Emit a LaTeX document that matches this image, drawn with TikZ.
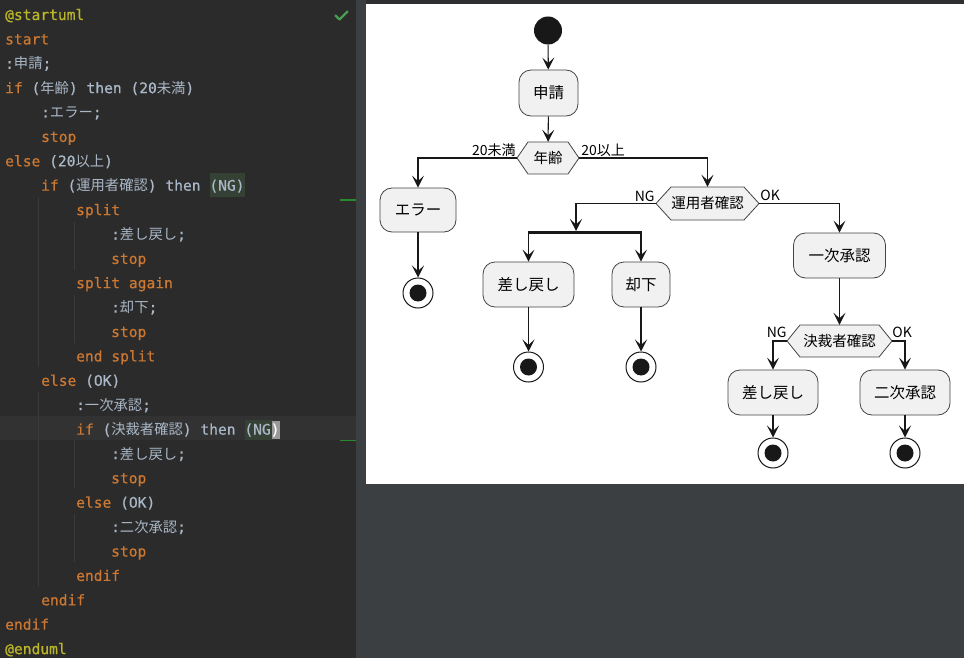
\documentclass[tikz,border=0pt]{standalone}
\usepackage{fontspec}
\newfontfamily\codefont[FakeBold=0.6]{DejaVu Sans Mono}
\newfontfamily\cjkfont{Noto Sans CJK JP}
\usetikzlibrary{arrows.meta}

\definecolor{edbg}{HTML}{2B2B2B}
\definecolor{panel}{HTML}{3C3F41}
\definecolor{topbar}{HTML}{2E2F30}
\definecolor{curline}{HTML}{323232}
\definecolor{kwc}{HTML}{CC7832}
\definecolor{annc}{HTML}{BBB529}
\definecolor{txtc}{HTML}{A9B7C6}
\definecolor{guide}{HTML}{3A3A3A}
\definecolor{matchbg}{HTML}{344134}
\definecolor{cursorbg}{HTML}{9A9A9A}
\definecolor{okgreen}{HTML}{499C54}
\definecolor{changegreen}{HTML}{2A8A2A}
\definecolor{umlline}{HTML}{181818}
\definecolor{umlborder}{HTML}{444444}
\definecolor{umlfill}{HTML}{F1F1F1}

\newcommand\kw[1]{\textcolor{kwc}{#1}}
\newcommand\J[1]{{\cjkfont\fontsize{14.3}{16}\selectfont #1}}
\newcommand\hexnode[7]{%
  \filldraw[hexl] ({#2-#4/2},#3) -- ({#2-#4/2+#6},{#3-#5/2}) -- ({#2+#4/2-#6},{#3-#5/2}) -- ({#2+#4/2},#3) -- ({#2+#4/2-#6},{#3+#5/2}) -- ({#2-#4/2+#6},{#3+#5/2}) -- cycle;
  \node[hext, minimum width=#4, minimum height=#5] (#1) at (#2,#3) {#7};}

\begin{document}
\begin{tikzpicture}[x=1pt, y=-1pt,
  codeline/.style={anchor=base west, inner sep=0pt, text=txtc, font=\codefont\fontsize{14.6}{17}\selectfont},
  guideline/.style={draw=guide, line width=1pt},
  act/.style={draw=umlborder, line width=0.8pt, fill=umlfill, rounded corners=12pt, inner sep=0pt, font=\cjkfont\fontsize{15.5}{18}\selectfont},
  hext/.style={inner sep=0pt, font=\cjkfont\fontsize{14.5}{17}\selectfont},
  hexl/.style={draw=umlborder, line width=0.8pt, fill=umlfill},
  lbl/.style={inner sep=0pt, font=\cjkfont\fontsize{14}{16}\selectfont},
  arr/.style={draw=umlline, line width=1.05pt, -{Stealth[length=12pt,width=12pt,inset=5.5pt]}},
  startc/.style={circle, fill=umlline, minimum size=28pt, inner sep=0pt},
  stopc/.style={circle, draw=umlline, line width=1pt, minimum size=30pt, inner sep=0pt,
    path picture={\fill[umlline] (path picture bounding box.center) circle (8.5pt);}}
]
\useasboundingbox (0,0) rectangle (964,658);
% ---------- backgrounds ----------
\fill[edbg] (0,0) rectangle (964,658);
\fill[panel] (356,0) rectangle (964,658);
\fill[topbar] (366,0) rectangle (964,4);
\fill[white] (366,4) rectangle (964,484);
\fill[curline] (0,416) rectangle (356,440);

% ---------- editor ----------
\draw[okgreen, line width=2.2pt, line cap=round, line join=round] (335.5,15.5) -- (339.5,19.5) -- (347.5,11.5);
\draw[changegreen, line width=1.5pt] (340,200) -- (356,200);
\draw[changegreen, line width=1.5pt] (340,440.5) -- (356,440.5);

\draw[guideline] (38.5,197) -- (38.5,367);
\draw[guideline] (38.5,392) -- (38.5,587);
\draw[guideline] (74.5,222) -- (74.5,270);
\draw[guideline] (74.5,295) -- (74.5,343);
\draw[guideline] (74.5,440) -- (74.5,488);
\draw[guideline] (74.5,514) -- (74.5,562);

\fill[matchbg] (209.5,173) rectangle (245,197);
\fill[matchbg] (244.5,420) rectangle (273,440);
\fill[cursorbg] (272,421) rectangle (280,439);

\node[codeline, text=annc] (c0) at (5,20) {@startuml};
\node[codeline] (c1) at (5,44.4) {\kw{start}};
\node[codeline] (c2) at (5,68.8) {:\J{申請};};
\node[codeline] (c3) at (5,93.2) {\kw{if} (\J{年齢}) then (20\J{未満})};
\node[codeline] (c4) at (41,117.5) {:\J{エラー};};
\node[codeline] (c5) at (41,141.9) {\kw{stop}};
\node[codeline] (c6) at (5,166.3) {\kw{else} (20\J{以上})};
\node[codeline] (c7) at (41,190.7) {\kw{if} (\J{運用者確認}) then (NG)};
\node[codeline] (c8) at (76,215.1) {\kw{split}};
\node[codeline] (c9) at (111,239.5) {:\J{差し戻し};};
\node[codeline] (c10) at (111,263.9) {\kw{stop}};
\node[codeline] (c11) at (76,288.2) {\kw{split again}};
\node[codeline] (c12) at (111,312.6) {:\J{却下};};
\node[codeline] (c13) at (111,337) {\kw{stop}};
\node[codeline] (c14) at (76,361.4) {\kw{end split}};
\node[codeline] (c15) at (41,385.8) {\kw{else} (OK)};
\node[codeline] (c16) at (76,410.2) {:\J{一次承認};};
\node[codeline] (c17) at (76,434.6) {\kw{if} (\J{決裁者確認}) then (NG\textcolor{white}{)}};
\node[codeline] (c18) at (111,459) {:\J{差し戻し};};
\node[codeline] (c19) at (111,483.3) {\kw{stop}};
\node[codeline] (c20) at (76,507.7) {\kw{else} (OK)};
\node[codeline] (c21) at (111,532.1) {:\J{二次承認};};
\node[codeline] (c22) at (111,556.5) {\kw{stop}};
\node[codeline] (c23) at (76,580.9) {\kw{endif}};
\node[codeline] (c24) at (41,605.3) {\kw{endif}};
\node[codeline] (c25) at (5,629.7) {\kw{endif}};
\node[codeline, text=annc] (c26) at (5,654.1) {@enduml};

% ---------- diagram ----------
\node[startc] (st) at (548,30.5) {};
\node[act, minimum width=59, minimum height=46] (a1) at (548.5,93) {申請};
\hexnode{d1}{548}{158}{62}{32}{11}{年齢}
\node[act, minimum width=76, minimum height=44] (err) at (418,210) {エラー};
\node[stopc] (s1) at (418,293) {};

\hexnode{d2}{707.5}{203.5}{103}{33}{15}{運用者確認}
\node[fill=umlline, minimum width=114, minimum height=2.5, inner sep=0pt] (fork) at (584.5,232.5) {};
\coordinate (fkin) at (576,231);
\node[act, minimum width=91, minimum height=45] (sb) at (528.5,284.5) {差し戻し};
\node[act, minimum width=58, minimum height=45] (kb) at (641,284.5) {却下};
\node[stopc] (s2) at (528.5,367) {};
\node[stopc] (s3) at (641,367) {};

\node[act, minimum width=92, minimum height=45] (a2) at (839.5,255.5) {一次承認};
\hexnode{d3}{839.5}{341}{105}{32}{13}{決裁者確認}
\node[act, minimum width=90, minimum height=45] (sb2) at (773,392.5) {差し戻し};
\node[act, minimum width=90, minimum height=45] (a3) at (905,392.5) {二次承認};
\node[stopc] (s4) at (773,453) {};
\node[stopc] (s5) at (905,453) {};

% connectors
\draw[arr] (st) -- (a1);
\draw[arr] (a1) -- (d1);
\draw[arr] (d1.west) -| (err.north);
\draw[arr] (d1.east) -| (d2.north);
\draw[arr] (err) -- (s1);
\draw[arr] (d2.west) -| (fkin);
\draw[arr] (fork.south -| sb.north) -- (sb.north);
\draw[arr] (fork.south -| kb.north) -- (kb.north);
\draw[arr] (sb) -- (s2);
\draw[arr] (kb) -- (s3);
\draw[arr] (d2.east) -| (a2.north);
\draw[arr] (a2) -- (d3);
\draw[arr] (d3.west) -| (sb2.north);
\draw[arr] (d3.east) -| (a3.north);
\draw[arr] (sb2) -- (s4);
\draw[arr] (a3) -- (s5);

% labels
\node[lbl, anchor=base east] (l1) at ([xshift=-1pt,yshift=2pt]d1.west) {20未満};
\node[lbl, anchor=base west] (l2) at ([xshift=2pt,yshift=2pt]d1.east) {20以上};
\node[lbl, anchor=base east] (l3) at ([xshift=-1pt,yshift=2.5pt]d2.west) {NG};
\node[lbl, anchor=base west] (l4) at ([xshift=1pt,yshift=3pt]d2.east) {OK};
\node[lbl, anchor=base east] (l5) at ([xshift=0pt,yshift=4pt]d3.west) {NG};
\node[lbl, anchor=base west] (l6) at ([xshift=0pt,yshift=4pt]d3.east) {OK};
\end{tikzpicture}
\end{document}
